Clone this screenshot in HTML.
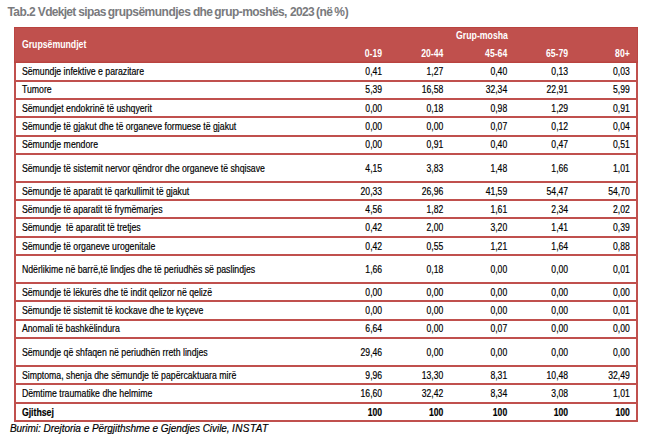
<!DOCTYPE html>
<html><head><meta charset="utf-8"><title>Tab.2</title>
<style>
html,body{margin:0;padding:0;background:#fff;}
body{width:654px;height:439px;overflow:hidden;font-family:"Liberation Sans",sans-serif;}
svg{display:block;font-family:"Liberation Sans",sans-serif;}
</style></head><body>
<svg width="654" height="439" viewBox="0 0 654 439">
<rect x="0" y="0" width="654" height="439" fill="#fff"/>
<g font-size="12" font-weight="bold" fill="#797a7d" transform="translate(0,15.6) scale(1,1.1)">
<text x="7.45" y="0" textLength="28.30" lengthAdjust="spacing">Tab.2</text>
<text x="37.85" y="0" textLength="38.50" lengthAdjust="spacing">Vdekjet</text>
<text x="78.25" y="0" textLength="28.25" lengthAdjust="spacing">sipas</text>
<text x="107.65" y="0" textLength="83.25" lengthAdjust="spacing">grupsëmundjes</text>
<text x="193.05" y="0" textLength="19.85" lengthAdjust="spacing">dhe</text>
<text x="214.35" y="0" textLength="73.10" lengthAdjust="spacing">grup-moshës,</text>
<text x="290.10" y="0" textLength="24.55" lengthAdjust="spacing">2023</text>
<text x="316.10" y="0" textLength="16.85" lengthAdjust="spacing">(në</text>
<text x="334.15" y="0" textLength="14.70" lengthAdjust="spacing">%)</text>
</g>
<rect x="14.0" y="27.0" width="624.0" height="36.0" fill="#C0504D"/>
<rect x="14.0" y="27.0" width="2.0" height="395.0" fill="#C0504D"/>
<rect x="636.0" y="27.0" width="2.0" height="395.0" fill="#C0504D"/>
<rect x="14.0" y="80" width="624.0" height="2.0" fill="#C0504D"/>
<rect x="14.0" y="98" width="624.0" height="2.0" fill="#C0504D"/>
<rect x="14.0" y="116" width="624.0" height="2.0" fill="#C0504D"/>
<rect x="14.0" y="135" width="624.0" height="2.0" fill="#C0504D"/>
<rect x="14.0" y="153" width="624.0" height="2.0" fill="#C0504D"/>
<rect x="14.0" y="181" width="624.0" height="2.0" fill="#C0504D"/>
<rect x="14.0" y="199" width="624.0" height="2.0" fill="#C0504D"/>
<rect x="14.0" y="217" width="624.0" height="2.0" fill="#C0504D"/>
<rect x="14.0" y="236" width="624.0" height="2.0" fill="#C0504D"/>
<rect x="14.0" y="254" width="624.0" height="2.0" fill="#C0504D"/>
<rect x="14.0" y="282" width="624.0" height="2.0" fill="#C0504D"/>
<rect x="14.0" y="300" width="624.0" height="2.0" fill="#C0504D"/>
<rect x="14.0" y="319" width="624.0" height="2.0" fill="#C0504D"/>
<rect x="14.0" y="337" width="624.0" height="2.0" fill="#C0504D"/>
<rect x="14.0" y="365" width="624.0" height="2.0" fill="#C0504D"/>
<rect x="14.0" y="383" width="624.0" height="2.0" fill="#C0504D"/>
<rect x="14.0" y="402" width="624.0" height="2.0" fill="#C0504D"/>
<rect x="14.0" y="420" width="624.0" height="2.0" fill="#C0504D"/>
<rect x="14.0" y="27.0" width="624.0" height="1" fill="#B9433F"/>
<rect x="14.0" y="61.6" width="624.0" height="1.4" fill="#B9433F"/>
<rect x="14.0" y="27.0" width="0.7" height="36.0" fill="#B9433F"/>
<rect x="637.3" y="27.0" width="0.7" height="36.0" fill="#B9433F"/>
<text transform="translate(21.90,47.70) scale(0.874,1)" font-size="10.0" font-weight="bold" fill="#fff" xml:space="preserve" style="white-space:pre">Grupsëmundjet</text>
<text transform="translate(482.00,39.00) scale(0.874,1)" font-size="10.0" font-weight="bold" text-anchor="middle" fill="#fff" xml:space="preserve" style="white-space:pre">Grup-mosha</text>
<text transform="translate(382.10,56.80) scale(0.866,1)" font-size="10.0" font-weight="bold" text-anchor="end" fill="#fff" xml:space="preserve" style="white-space:pre">0-19</text>
<text transform="translate(443.30,56.80) scale(0.866,1)" font-size="10.0" font-weight="bold" text-anchor="end" fill="#fff" xml:space="preserve" style="white-space:pre">20-44</text>
<text transform="translate(507.20,56.80) scale(0.866,1)" font-size="10.0" font-weight="bold" text-anchor="end" fill="#fff" xml:space="preserve" style="white-space:pre">45-64</text>
<text transform="translate(568.10,56.80) scale(0.866,1)" font-size="10.0" font-weight="bold" text-anchor="end" fill="#fff" xml:space="preserve" style="white-space:pre">65-79</text>
<text transform="translate(629.80,56.80) scale(0.866,1)" font-size="10.0" font-weight="bold" text-anchor="end" fill="#fff" xml:space="preserve" style="white-space:pre">80+</text>
<text transform="translate(21.90,75.06) scale(0.874,1)" font-size="10.0" fill="#000" xml:space="preserve" style="white-space:pre" stroke="#000" stroke-width="0.18">Sëmundje infektive e parazitare</text>
<text transform="translate(382.10,75.06) scale(0.862,1)" font-size="10.0" text-anchor="end" fill="#000" xml:space="preserve" style="white-space:pre" stroke="#000" stroke-width="0.18">0,41</text>
<text transform="translate(443.30,75.06) scale(0.862,1)" font-size="10.0" text-anchor="end" fill="#000" xml:space="preserve" style="white-space:pre" stroke="#000" stroke-width="0.18">1,27</text>
<text transform="translate(507.20,75.06) scale(0.862,1)" font-size="10.0" text-anchor="end" fill="#000" xml:space="preserve" style="white-space:pre" stroke="#000" stroke-width="0.18">0,40</text>
<text transform="translate(568.10,75.06) scale(0.862,1)" font-size="10.0" text-anchor="end" fill="#000" xml:space="preserve" style="white-space:pre" stroke="#000" stroke-width="0.18">0,13</text>
<text transform="translate(629.80,75.06) scale(0.862,1)" font-size="10.0" text-anchor="end" fill="#000" xml:space="preserve" style="white-space:pre" stroke="#000" stroke-width="0.18">0,03</text>
<text transform="translate(21.90,93.38) scale(0.874,1)" font-size="10.0" fill="#000" xml:space="preserve" style="white-space:pre" stroke="#000" stroke-width="0.18">Tumore</text>
<text transform="translate(382.10,93.38) scale(0.862,1)" font-size="10.0" text-anchor="end" fill="#000" xml:space="preserve" style="white-space:pre" stroke="#000" stroke-width="0.18">5,39</text>
<text transform="translate(443.30,93.38) scale(0.862,1)" font-size="10.0" text-anchor="end" fill="#000" xml:space="preserve" style="white-space:pre" stroke="#000" stroke-width="0.18">16,58</text>
<text transform="translate(507.20,93.38) scale(0.862,1)" font-size="10.0" text-anchor="end" fill="#000" xml:space="preserve" style="white-space:pre" stroke="#000" stroke-width="0.18">32,34</text>
<text transform="translate(568.10,93.38) scale(0.862,1)" font-size="10.0" text-anchor="end" fill="#000" xml:space="preserve" style="white-space:pre" stroke="#000" stroke-width="0.18">22,91</text>
<text transform="translate(629.80,93.38) scale(0.862,1)" font-size="10.0" text-anchor="end" fill="#000" xml:space="preserve" style="white-space:pre" stroke="#000" stroke-width="0.18">5,99</text>
<text transform="translate(21.90,111.69) scale(0.874,1)" font-size="10.0" fill="#000" xml:space="preserve" style="white-space:pre" stroke="#000" stroke-width="0.18">Sëmundjet endokrinë të ushqyerit</text>
<text transform="translate(382.10,111.69) scale(0.862,1)" font-size="10.0" text-anchor="end" fill="#000" xml:space="preserve" style="white-space:pre" stroke="#000" stroke-width="0.18">0,00</text>
<text transform="translate(443.30,111.69) scale(0.862,1)" font-size="10.0" text-anchor="end" fill="#000" xml:space="preserve" style="white-space:pre" stroke="#000" stroke-width="0.18">0,18</text>
<text transform="translate(507.20,111.69) scale(0.862,1)" font-size="10.0" text-anchor="end" fill="#000" xml:space="preserve" style="white-space:pre" stroke="#000" stroke-width="0.18">0,98</text>
<text transform="translate(568.10,111.69) scale(0.862,1)" font-size="10.0" text-anchor="end" fill="#000" xml:space="preserve" style="white-space:pre" stroke="#000" stroke-width="0.18">1,29</text>
<text transform="translate(629.80,111.69) scale(0.862,1)" font-size="10.0" text-anchor="end" fill="#000" xml:space="preserve" style="white-space:pre" stroke="#000" stroke-width="0.18">0,91</text>
<text transform="translate(21.90,130.01) scale(0.874,1)" font-size="10.0" fill="#000" xml:space="preserve" style="white-space:pre" stroke="#000" stroke-width="0.18">Sëmundje të gjakut dhe të organeve formuese të gjakut</text>
<text transform="translate(382.10,130.01) scale(0.862,1)" font-size="10.0" text-anchor="end" fill="#000" xml:space="preserve" style="white-space:pre" stroke="#000" stroke-width="0.18">0,00</text>
<text transform="translate(443.30,130.01) scale(0.862,1)" font-size="10.0" text-anchor="end" fill="#000" xml:space="preserve" style="white-space:pre" stroke="#000" stroke-width="0.18">0,00</text>
<text transform="translate(507.20,130.01) scale(0.862,1)" font-size="10.0" text-anchor="end" fill="#000" xml:space="preserve" style="white-space:pre" stroke="#000" stroke-width="0.18">0,07</text>
<text transform="translate(568.10,130.01) scale(0.862,1)" font-size="10.0" text-anchor="end" fill="#000" xml:space="preserve" style="white-space:pre" stroke="#000" stroke-width="0.18">0,12</text>
<text transform="translate(629.80,130.01) scale(0.862,1)" font-size="10.0" text-anchor="end" fill="#000" xml:space="preserve" style="white-space:pre" stroke="#000" stroke-width="0.18">0,04</text>
<text transform="translate(21.90,148.33) scale(0.874,1)" font-size="10.0" fill="#000" xml:space="preserve" style="white-space:pre" stroke="#000" stroke-width="0.18">Sëmundje mendore</text>
<text transform="translate(382.10,148.33) scale(0.862,1)" font-size="10.0" text-anchor="end" fill="#000" xml:space="preserve" style="white-space:pre" stroke="#000" stroke-width="0.18">0,00</text>
<text transform="translate(443.30,148.33) scale(0.862,1)" font-size="10.0" text-anchor="end" fill="#000" xml:space="preserve" style="white-space:pre" stroke="#000" stroke-width="0.18">0,91</text>
<text transform="translate(507.20,148.33) scale(0.862,1)" font-size="10.0" text-anchor="end" fill="#000" xml:space="preserve" style="white-space:pre" stroke="#000" stroke-width="0.18">0,40</text>
<text transform="translate(568.10,148.33) scale(0.862,1)" font-size="10.0" text-anchor="end" fill="#000" xml:space="preserve" style="white-space:pre" stroke="#000" stroke-width="0.18">0,47</text>
<text transform="translate(629.80,148.33) scale(0.862,1)" font-size="10.0" text-anchor="end" fill="#000" xml:space="preserve" style="white-space:pre" stroke="#000" stroke-width="0.18">0,51</text>
<text transform="translate(21.90,171.81) scale(0.874,1)" font-size="10.0" fill="#000" xml:space="preserve" style="white-space:pre" stroke="#000" stroke-width="0.18">Sëmundje të sistemit nervor qëndror dhe organeve të shqisave</text>
<text transform="translate(382.10,171.81) scale(0.862,1)" font-size="10.0" text-anchor="end" fill="#000" xml:space="preserve" style="white-space:pre" stroke="#000" stroke-width="0.18">4,15</text>
<text transform="translate(443.30,171.81) scale(0.862,1)" font-size="10.0" text-anchor="end" fill="#000" xml:space="preserve" style="white-space:pre" stroke="#000" stroke-width="0.18">3,83</text>
<text transform="translate(507.20,171.81) scale(0.862,1)" font-size="10.0" text-anchor="end" fill="#000" xml:space="preserve" style="white-space:pre" stroke="#000" stroke-width="0.18">1,48</text>
<text transform="translate(568.10,171.81) scale(0.862,1)" font-size="10.0" text-anchor="end" fill="#000" xml:space="preserve" style="white-space:pre" stroke="#000" stroke-width="0.18">1,66</text>
<text transform="translate(629.80,171.81) scale(0.862,1)" font-size="10.0" text-anchor="end" fill="#000" xml:space="preserve" style="white-space:pre" stroke="#000" stroke-width="0.18">1,01</text>
<text transform="translate(21.90,194.59) scale(0.874,1)" font-size="10.0" fill="#000" xml:space="preserve" style="white-space:pre" stroke="#000" stroke-width="0.18">Sëmundje të aparatit të qarkullimit të gjakut</text>
<text transform="translate(382.10,194.59) scale(0.862,1)" font-size="10.0" text-anchor="end" fill="#000" xml:space="preserve" style="white-space:pre" stroke="#000" stroke-width="0.18">20,33</text>
<text transform="translate(443.30,194.59) scale(0.862,1)" font-size="10.0" text-anchor="end" fill="#000" xml:space="preserve" style="white-space:pre" stroke="#000" stroke-width="0.18">26,96</text>
<text transform="translate(507.20,194.59) scale(0.862,1)" font-size="10.0" text-anchor="end" fill="#000" xml:space="preserve" style="white-space:pre" stroke="#000" stroke-width="0.18">41,59</text>
<text transform="translate(568.10,194.59) scale(0.862,1)" font-size="10.0" text-anchor="end" fill="#000" xml:space="preserve" style="white-space:pre" stroke="#000" stroke-width="0.18">54,47</text>
<text transform="translate(629.80,194.59) scale(0.862,1)" font-size="10.0" text-anchor="end" fill="#000" xml:space="preserve" style="white-space:pre" stroke="#000" stroke-width="0.18">54,70</text>
<text transform="translate(21.90,212.91) scale(0.874,1)" font-size="10.0" fill="#000" xml:space="preserve" style="white-space:pre" stroke="#000" stroke-width="0.18">Sëmundje të aparatit të frymëmarjes</text>
<text transform="translate(382.10,212.91) scale(0.862,1)" font-size="10.0" text-anchor="end" fill="#000" xml:space="preserve" style="white-space:pre" stroke="#000" stroke-width="0.18">4,56</text>
<text transform="translate(443.30,212.91) scale(0.862,1)" font-size="10.0" text-anchor="end" fill="#000" xml:space="preserve" style="white-space:pre" stroke="#000" stroke-width="0.18">1,82</text>
<text transform="translate(507.20,212.91) scale(0.862,1)" font-size="10.0" text-anchor="end" fill="#000" xml:space="preserve" style="white-space:pre" stroke="#000" stroke-width="0.18">1,61</text>
<text transform="translate(568.10,212.91) scale(0.862,1)" font-size="10.0" text-anchor="end" fill="#000" xml:space="preserve" style="white-space:pre" stroke="#000" stroke-width="0.18">2,34</text>
<text transform="translate(629.80,212.91) scale(0.862,1)" font-size="10.0" text-anchor="end" fill="#000" xml:space="preserve" style="white-space:pre" stroke="#000" stroke-width="0.18">2,02</text>
<text transform="translate(21.90,231.23) scale(0.874,1)" font-size="10.0" fill="#000" xml:space="preserve" style="white-space:pre" stroke="#000" stroke-width="0.18">Sëmundje  të aparatit të tretjes</text>
<text transform="translate(382.10,231.23) scale(0.862,1)" font-size="10.0" text-anchor="end" fill="#000" xml:space="preserve" style="white-space:pre" stroke="#000" stroke-width="0.18">0,42</text>
<text transform="translate(443.30,231.23) scale(0.862,1)" font-size="10.0" text-anchor="end" fill="#000" xml:space="preserve" style="white-space:pre" stroke="#000" stroke-width="0.18">2,00</text>
<text transform="translate(507.20,231.23) scale(0.862,1)" font-size="10.0" text-anchor="end" fill="#000" xml:space="preserve" style="white-space:pre" stroke="#000" stroke-width="0.18">3,20</text>
<text transform="translate(568.10,231.23) scale(0.862,1)" font-size="10.0" text-anchor="end" fill="#000" xml:space="preserve" style="white-space:pre" stroke="#000" stroke-width="0.18">1,41</text>
<text transform="translate(629.80,231.23) scale(0.862,1)" font-size="10.0" text-anchor="end" fill="#000" xml:space="preserve" style="white-space:pre" stroke="#000" stroke-width="0.18">0,39</text>
<text transform="translate(21.90,249.54) scale(0.874,1)" font-size="10.0" fill="#000" xml:space="preserve" style="white-space:pre" stroke="#000" stroke-width="0.18">Sëmundje të organeve urogenitale</text>
<text transform="translate(382.10,249.54) scale(0.862,1)" font-size="10.0" text-anchor="end" fill="#000" xml:space="preserve" style="white-space:pre" stroke="#000" stroke-width="0.18">0,42</text>
<text transform="translate(443.30,249.54) scale(0.862,1)" font-size="10.0" text-anchor="end" fill="#000" xml:space="preserve" style="white-space:pre" stroke="#000" stroke-width="0.18">0,55</text>
<text transform="translate(507.20,249.54) scale(0.862,1)" font-size="10.0" text-anchor="end" fill="#000" xml:space="preserve" style="white-space:pre" stroke="#000" stroke-width="0.18">1,21</text>
<text transform="translate(568.10,249.54) scale(0.862,1)" font-size="10.0" text-anchor="end" fill="#000" xml:space="preserve" style="white-space:pre" stroke="#000" stroke-width="0.18">1,64</text>
<text transform="translate(629.80,249.54) scale(0.862,1)" font-size="10.0" text-anchor="end" fill="#000" xml:space="preserve" style="white-space:pre" stroke="#000" stroke-width="0.18">0,88</text>
<text transform="translate(21.90,273.03) scale(0.874,1)" font-size="10.0" fill="#000" xml:space="preserve" style="white-space:pre" stroke="#000" stroke-width="0.18">Ndërlikime në barrë,të lindjes dhe të periudhës së paslindjes</text>
<text transform="translate(382.10,273.03) scale(0.862,1)" font-size="10.0" text-anchor="end" fill="#000" xml:space="preserve" style="white-space:pre" stroke="#000" stroke-width="0.18">1,66</text>
<text transform="translate(443.30,273.03) scale(0.862,1)" font-size="10.0" text-anchor="end" fill="#000" xml:space="preserve" style="white-space:pre" stroke="#000" stroke-width="0.18">0,18</text>
<text transform="translate(507.20,273.03) scale(0.862,1)" font-size="10.0" text-anchor="end" fill="#000" xml:space="preserve" style="white-space:pre" stroke="#000" stroke-width="0.18">0,00</text>
<text transform="translate(568.10,273.03) scale(0.862,1)" font-size="10.0" text-anchor="end" fill="#000" xml:space="preserve" style="white-space:pre" stroke="#000" stroke-width="0.18">0,00</text>
<text transform="translate(629.80,273.03) scale(0.862,1)" font-size="10.0" text-anchor="end" fill="#000" xml:space="preserve" style="white-space:pre" stroke="#000" stroke-width="0.18">0,01</text>
<text transform="translate(21.90,295.81) scale(0.874,1)" font-size="10.0" fill="#000" xml:space="preserve" style="white-space:pre" stroke="#000" stroke-width="0.18">Sëmundje të lëkurës dhe të indit qelizor në qelizë</text>
<text transform="translate(382.10,295.81) scale(0.862,1)" font-size="10.0" text-anchor="end" fill="#000" xml:space="preserve" style="white-space:pre" stroke="#000" stroke-width="0.18">0,00</text>
<text transform="translate(443.30,295.81) scale(0.862,1)" font-size="10.0" text-anchor="end" fill="#000" xml:space="preserve" style="white-space:pre" stroke="#000" stroke-width="0.18">0,00</text>
<text transform="translate(507.20,295.81) scale(0.862,1)" font-size="10.0" text-anchor="end" fill="#000" xml:space="preserve" style="white-space:pre" stroke="#000" stroke-width="0.18">0,00</text>
<text transform="translate(568.10,295.81) scale(0.862,1)" font-size="10.0" text-anchor="end" fill="#000" xml:space="preserve" style="white-space:pre" stroke="#000" stroke-width="0.18">0,00</text>
<text transform="translate(629.80,295.81) scale(0.862,1)" font-size="10.0" text-anchor="end" fill="#000" xml:space="preserve" style="white-space:pre" stroke="#000" stroke-width="0.18">0,00</text>
<text transform="translate(21.90,314.13) scale(0.874,1)" font-size="10.0" fill="#000" xml:space="preserve" style="white-space:pre" stroke="#000" stroke-width="0.18">Sëmundje të sistemit të kockave dhe te kyçeve</text>
<text transform="translate(382.10,314.13) scale(0.862,1)" font-size="10.0" text-anchor="end" fill="#000" xml:space="preserve" style="white-space:pre" stroke="#000" stroke-width="0.18">0,00</text>
<text transform="translate(443.30,314.13) scale(0.862,1)" font-size="10.0" text-anchor="end" fill="#000" xml:space="preserve" style="white-space:pre" stroke="#000" stroke-width="0.18">0,00</text>
<text transform="translate(507.20,314.13) scale(0.862,1)" font-size="10.0" text-anchor="end" fill="#000" xml:space="preserve" style="white-space:pre" stroke="#000" stroke-width="0.18">0,00</text>
<text transform="translate(568.10,314.13) scale(0.862,1)" font-size="10.0" text-anchor="end" fill="#000" xml:space="preserve" style="white-space:pre" stroke="#000" stroke-width="0.18">0,00</text>
<text transform="translate(629.80,314.13) scale(0.862,1)" font-size="10.0" text-anchor="end" fill="#000" xml:space="preserve" style="white-space:pre" stroke="#000" stroke-width="0.18">0,01</text>
<text transform="translate(21.90,332.45) scale(0.874,1)" font-size="10.0" fill="#000" xml:space="preserve" style="white-space:pre" stroke="#000" stroke-width="0.18">Anomali të bashkëlindura</text>
<text transform="translate(382.10,332.45) scale(0.862,1)" font-size="10.0" text-anchor="end" fill="#000" xml:space="preserve" style="white-space:pre" stroke="#000" stroke-width="0.18">6,64</text>
<text transform="translate(443.30,332.45) scale(0.862,1)" font-size="10.0" text-anchor="end" fill="#000" xml:space="preserve" style="white-space:pre" stroke="#000" stroke-width="0.18">0,00</text>
<text transform="translate(507.20,332.45) scale(0.862,1)" font-size="10.0" text-anchor="end" fill="#000" xml:space="preserve" style="white-space:pre" stroke="#000" stroke-width="0.18">0,07</text>
<text transform="translate(568.10,332.45) scale(0.862,1)" font-size="10.0" text-anchor="end" fill="#000" xml:space="preserve" style="white-space:pre" stroke="#000" stroke-width="0.18">0,00</text>
<text transform="translate(629.80,332.45) scale(0.862,1)" font-size="10.0" text-anchor="end" fill="#000" xml:space="preserve" style="white-space:pre" stroke="#000" stroke-width="0.18">0,00</text>
<text transform="translate(21.90,355.93) scale(0.874,1)" font-size="10.0" fill="#000" xml:space="preserve" style="white-space:pre" stroke="#000" stroke-width="0.18">Sëmundje që shfaqen në periudhën rreth lindjes</text>
<text transform="translate(382.10,355.93) scale(0.862,1)" font-size="10.0" text-anchor="end" fill="#000" xml:space="preserve" style="white-space:pre" stroke="#000" stroke-width="0.18">29,46</text>
<text transform="translate(443.30,355.93) scale(0.862,1)" font-size="10.0" text-anchor="end" fill="#000" xml:space="preserve" style="white-space:pre" stroke="#000" stroke-width="0.18">0,00</text>
<text transform="translate(507.20,355.93) scale(0.862,1)" font-size="10.0" text-anchor="end" fill="#000" xml:space="preserve" style="white-space:pre" stroke="#000" stroke-width="0.18">0,00</text>
<text transform="translate(568.10,355.93) scale(0.862,1)" font-size="10.0" text-anchor="end" fill="#000" xml:space="preserve" style="white-space:pre" stroke="#000" stroke-width="0.18">0,00</text>
<text transform="translate(629.80,355.93) scale(0.862,1)" font-size="10.0" text-anchor="end" fill="#000" xml:space="preserve" style="white-space:pre" stroke="#000" stroke-width="0.18">0,00</text>
<text transform="translate(21.90,378.71) scale(0.874,1)" font-size="10.0" fill="#000" xml:space="preserve" style="white-space:pre" stroke="#000" stroke-width="0.18">Simptoma, shenja dhe sëmundje të papërcaktuara mirë</text>
<text transform="translate(382.10,378.71) scale(0.862,1)" font-size="10.0" text-anchor="end" fill="#000" xml:space="preserve" style="white-space:pre" stroke="#000" stroke-width="0.18">9,96</text>
<text transform="translate(443.30,378.71) scale(0.862,1)" font-size="10.0" text-anchor="end" fill="#000" xml:space="preserve" style="white-space:pre" stroke="#000" stroke-width="0.18">13,30</text>
<text transform="translate(507.20,378.71) scale(0.862,1)" font-size="10.0" text-anchor="end" fill="#000" xml:space="preserve" style="white-space:pre" stroke="#000" stroke-width="0.18">8,31</text>
<text transform="translate(568.10,378.71) scale(0.862,1)" font-size="10.0" text-anchor="end" fill="#000" xml:space="preserve" style="white-space:pre" stroke="#000" stroke-width="0.18">10,48</text>
<text transform="translate(629.80,378.71) scale(0.862,1)" font-size="10.0" text-anchor="end" fill="#000" xml:space="preserve" style="white-space:pre" stroke="#000" stroke-width="0.18">32,49</text>
<text transform="translate(21.90,397.03) scale(0.874,1)" font-size="10.0" fill="#000" xml:space="preserve" style="white-space:pre" stroke="#000" stroke-width="0.18">Dëmtime traumatike dhe helmime</text>
<text transform="translate(382.10,397.03) scale(0.862,1)" font-size="10.0" text-anchor="end" fill="#000" xml:space="preserve" style="white-space:pre" stroke="#000" stroke-width="0.18">16,60</text>
<text transform="translate(443.30,397.03) scale(0.862,1)" font-size="10.0" text-anchor="end" fill="#000" xml:space="preserve" style="white-space:pre" stroke="#000" stroke-width="0.18">32,42</text>
<text transform="translate(507.20,397.03) scale(0.862,1)" font-size="10.0" text-anchor="end" fill="#000" xml:space="preserve" style="white-space:pre" stroke="#000" stroke-width="0.18">8,34</text>
<text transform="translate(568.10,397.03) scale(0.862,1)" font-size="10.0" text-anchor="end" fill="#000" xml:space="preserve" style="white-space:pre" stroke="#000" stroke-width="0.18">3,08</text>
<text transform="translate(629.80,397.03) scale(0.862,1)" font-size="10.0" text-anchor="end" fill="#000" xml:space="preserve" style="white-space:pre" stroke="#000" stroke-width="0.18">1,01</text>
<text transform="translate(21.90,415.85) scale(0.874,1)" font-size="10.0" font-weight="bold" fill="#000" xml:space="preserve" style="white-space:pre" stroke="#000" stroke-width="0.18">Gjithsej</text>
<text transform="translate(382.10,415.85) scale(0.862,1)" font-size="10.0" font-weight="bold" text-anchor="end" fill="#000" xml:space="preserve" style="white-space:pre" stroke="#000" stroke-width="0.18">100</text>
<text transform="translate(443.30,415.85) scale(0.862,1)" font-size="10.0" font-weight="bold" text-anchor="end" fill="#000" xml:space="preserve" style="white-space:pre" stroke="#000" stroke-width="0.18">100</text>
<text transform="translate(507.20,415.85) scale(0.862,1)" font-size="10.0" font-weight="bold" text-anchor="end" fill="#000" xml:space="preserve" style="white-space:pre" stroke="#000" stroke-width="0.18">100</text>
<text transform="translate(568.10,415.85) scale(0.862,1)" font-size="10.0" font-weight="bold" text-anchor="end" fill="#000" xml:space="preserve" style="white-space:pre" stroke="#000" stroke-width="0.18">100</text>
<text transform="translate(629.80,415.85) scale(0.862,1)" font-size="10.0" font-weight="bold" text-anchor="end" fill="#000" xml:space="preserve" style="white-space:pre" stroke="#000" stroke-width="0.18">100</text>
<g font-size="10" font-style="italic" fill="#000" stroke="#000" stroke-width="0.18">
<text x="9.9" y="431.5" letter-spacing="-0.04">Burimi: Drejtoria e Përgjithshme e Gjendjes Civile,</text>
<text x="232.1" y="431.5" textLength="36.0" lengthAdjust="spacing">INSTAT</text>
</g>
</svg>
</body></html>
